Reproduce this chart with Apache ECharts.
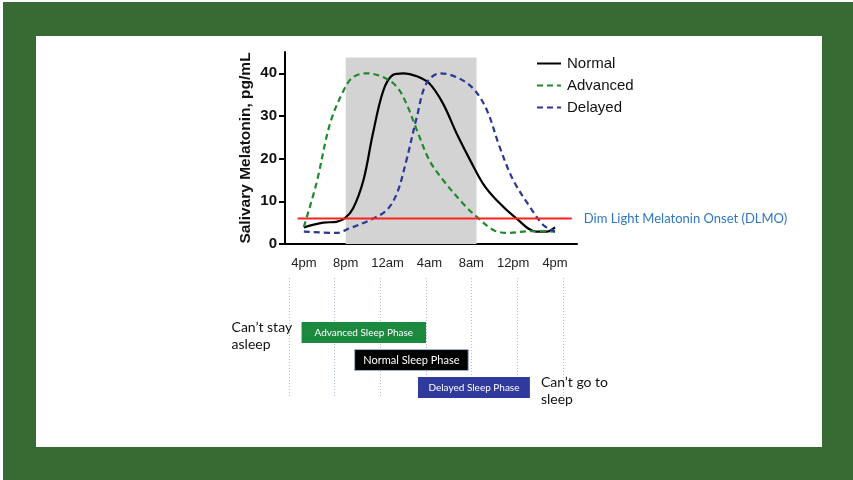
<!DOCTYPE html>
<html>
<head>
<meta charset="utf-8">
<script src="https://cdn.jsdelivr.net/npm/echarts@6/dist/echarts.min.js"></script>
<style>
  html, body { margin: 0; padding: 0; background: #ffffff; }
  #frame { position: absolute; left: 3px; top: 2px; width: 850px; height: 478px; background: #386a34; }
  #panel { position: absolute; left: 36px; top: 36px; width: 786px; height: 411px; background: #ffffff; }
  #chart { position: absolute; left: 0; top: 0; width: 853px; height: 480px; }
</style>
</head>
<body>
<div id="frame"></div>
<div id="panel"></div>
<div id="chart"></div>
<script>
// ---- Data (hours: 16 = 4pm day 1 ... 40 = 4pm day 2) ----
const tickHours = [16, 20, 24, 28, 32, 36, 40];
const tickLabels = ['4pm', '8pm', '12am', '4am', '8am', '12pm', '4pm'];
const yTicks = [0, 10, 20, 30, 40];

const normalHours  = [16, 17.85, 19.1, 19.9, 20.7, 21.7, 22.6, 23.6, 24.5, 25.5, 26.8, 28.0, 29.3, 30.6, 31.9, 33.1, 34.4, 36.3, 38.2, 39.2, 40];
const normalValues = [3.9, 5.0, 5.2, 6.0, 8.3, 15, 25.9, 36, 39.6, 40, 39.3, 37.6, 32.9, 25.9, 19.6, 14.2, 10.3, 6.0, 2.9, 2.9, 3.9];

const advancedHours  = [16, 17.2, 18.5, 19.8, 20.7, 22.0, 23.6, 24.9, 25.8, 26.8, 28.0, 29.3, 31.2, 32.5, 34.1, 35.4, 37.6, 40];
const advancedValues = [4, 14.2, 28.2, 36, 39.1, 40, 39.1, 36.8, 32.9, 26.7, 19.6, 15, 9.5, 6.4, 3.3, 2.6, 3.0, 2.9];

const delayedHours  = [16, 19.1, 20.4, 22.3, 23.9, 24.9, 25.8, 26.8, 27.7, 29.0, 30.6, 32.2, 33.5, 34.7, 36.0, 37.6, 38.9, 40];
const delayedValues = [2.9, 2.6, 3.7, 5.6, 7.9, 11.9, 19.6, 29.8, 37.6, 40, 39.1, 36.4, 31.3, 22.8, 15, 8.7, 4.4, 2.9];

const dlmoHours = [15.4, 41.6];
const dlmoValues = [6, 6];
const darkStart = 20, darkEnd = 32.5, darkTop = 43.7;

const phaseNames = ['Advanced Sleep Phase', 'Normal Sleep Phase', 'Delayed Sleep Phase'];
const phaseStart = [17.1, 21.75, 27.3];
const phaseEnd   = [28.0, 31.7, 37.1];
const phaseNotes = ['Can\u2019t stay\nasleep', '', 'Can\u2019t go to\nsleep'];

// ---- Styles ----
const phaseColors = ['#1b8a3f', '#000000', '#2f3a9c'];
const phaseText = [10, 11, 10];

const zip = (a, b) => a.map((v, i) => [v, b[i]]);

const chart = echarts.init(document.getElementById('chart'), null, { renderer: 'canvas' });
const option = {
  backgroundColor: 'transparent',
  animation: false,
  legend: {
    data: ['Normal', 'Advanced', 'Delayed'],
    orient: 'vertical',
    left: 531, top: 51,
    itemWidth: 24, itemHeight: 12, itemGap: 7,
    itemStyle: { opacity: 0 },
    textStyle: { fontFamily: 'Liberation Sans, Arial', fontSize: 15, lineHeight: 15, color: '#111', padding: [0, 0, 0, 1] }
  },
  grid: [
    { left: 285, top: 52, width: 292, height: 192 },
    { left: 289, top: 278, width: 274, height: 120 }
  ],
  xAxis: [
    {
      type: 'value', gridIndex: 0, min: 14.2, max: 42.1,
      axisLine: { show: true, onZero: false, lineStyle: { color: '#000', width: 2 } },
      axisTick: { show: false },
      splitLine: { show: false },
      axisLabel: {
        customValues: tickHours,
        formatter: v => tickLabels[tickHours.indexOf(v)],
        margin: 13, fontFamily: 'Liberation Sans, Arial', fontSize: 13, color: '#222'
      }
    },
    {
      type: 'value', gridIndex: 1, min: 16, max: 40, interval: 4,
      axisLine: { show: false }, axisTick: { show: false }, axisLabel: { show: false },
      splitLine: { show: true, lineStyle: { color: '#a9bfd8', type: [1, 2], width: 1 } }
    }
  ],
  yAxis: [
    {
      type: 'value', gridIndex: 0, min: 0, max: 45,
      name: 'Salivary Melatonin, pg/mL', nameLocation: 'middle', nameGap: 31,
      nameTextStyle: { fontFamily: 'Liberation Sans, Arial', fontWeight: 'bold', fontSize: 15.5, color: '#111' },
      axisLine: { show: true, lineStyle: { color: '#000', width: 2 } },
      axisTick: { show: true, inside: false, customValues: yTicks, length: 6, lineStyle: { color: '#000', width: 2 } },
      splitLine: { show: false },
      axisLabel: { customValues: yTicks, margin: 8, fontFamily: 'Liberation Sans, Arial', fontWeight: 'bold', fontSize: 15, color: '#111' }
    },
    {
      type: 'value', gridIndex: 1, min: -1.98, max: 2.38, inverse: true, show: false
    }
  ],
  series: [
    {
      name: 'dark', type: 'line', xAxisIndex: 0, yAxisIndex: 0, data: [], silent: true,
      markArea: {
        silent: true,
        itemStyle: { color: '#d3d3d3' },
        data: [[{ xAxis: darkStart, yAxis: 0 }, { xAxis: darkEnd, yAxis: darkTop }]]
      }
    },
    {
      name: 'Normal', type: 'line', xAxisIndex: 0, yAxisIndex: 0, smooth: 0.35, showSymbol: false, symbol: 'none',
      data: zip(normalHours, normalValues),
      lineStyle: { color: '#000', width: 2.2 }, itemStyle: { color: '#000' }
    },
    {
      name: 'Advanced', type: 'line', xAxisIndex: 0, yAxisIndex: 0, smooth: 0.35, showSymbol: false, symbol: 'none',
      data: zip(advancedHours, advancedValues),
      lineStyle: { color: '#1f8a2c', width: 2.2, type: [6, 4] }, itemStyle: { color: '#1f8a2c' }
    },
    {
      name: 'Delayed', type: 'line', xAxisIndex: 0, yAxisIndex: 0, smooth: 0.35, showSymbol: false, symbol: 'none',
      data: zip(delayedHours, delayedValues),
      lineStyle: { color: '#2b3795', width: 2.2, type: [6, 4] }, itemStyle: { color: '#2b3795' }
    },
    {
      name: 'DLMO', type: 'line', xAxisIndex: 0, yAxisIndex: 0, showSymbol: false, symbol: 'none',
      data: zip(dlmoHours, dlmoValues),
      lineStyle: { color: '#ff2121', width: 2 },
      endLabel: {
        show: true, formatter: 'Dim Light Melatonin Onset (DLMO)', distance: 12,
        fontFamily: 'Lato', fontSize: 13, color: '#2e77c4'
      }
    },
    {
      name: 'phases', type: 'custom', xAxisIndex: 1, yAxisIndex: 1,
      data: phaseNames.map((n, i) => [phaseStart[i], phaseEnd[i], i]),
      renderItem: function (params, api) {
        const i = params.dataIndex;
        const p0 = api.coord([api.value(0), api.value(2)]);
        const p1 = api.coord([api.value(1), api.value(2)]);
        const h = api.size([0, 0.76])[1];
        const children = [
          {
            type: 'rect',
            shape: { x: p0[0], y: p0[1] - h / 2, width: p1[0] - p0[0], height: h },
            style: { fill: phaseColors[i], stroke: i === 1 ? '#9fb0c8' : null, lineWidth: 1 }
          },
          {
            type: 'text',
            style: {
              text: phaseNames[i], x: (p0[0] + p1[0]) / 2, y: p0[1],
              align: 'center', verticalAlign: 'middle',
              fill: '#fff', font: phaseText[i] + 'px Lato'
            }
          }
        ];
        if (phaseNotes[i]) {
          const left = i === 0;
          children.push({
            type: 'text',
            style: {
              text: phaseNotes[i], x: left ? p0[0] - 70 : p1[0] + 11, y: p0[1] - h / 2 - 3,
              align: 'left', verticalAlign: 'top', lineHeight: 17,
              fill: '#111', font: '14px Lato'
            }
          });
        }
        return { type: 'group', children: children };
      }
    }
  ]
};
chart.setOption(option);
</script>
</body>
</html>
